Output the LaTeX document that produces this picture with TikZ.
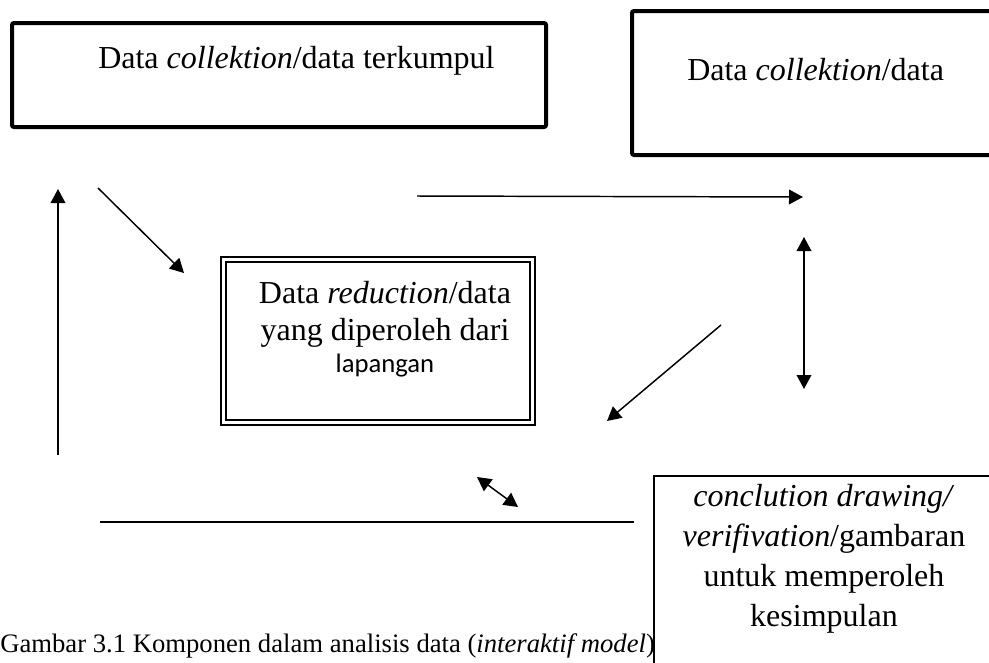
\documentclass[tikz,border=0pt]{standalone}
\usepackage{fontspec}
\setmainfont{Liberation Serif}
\newfontfamily\calib{Carlito}
\usetikzlibrary{arrows.meta,positioning}
\tikzset{
  kotak/.style={draw,line width=3pt,rounded corners=1.5pt,inner sep=0pt,outer sep=0pt,fill=white},
  kotakt/.style={draw,line width=1.1pt,inner sep=0pt,outer sep=0pt,fill=white},
  teks/.style={font=\fontsize{24}{30}\selectfont,inner sep=0pt,align=center},
  panah/.style={-{Triangle[length=10.5pt,width=11pt]},line width=1.1pt},
  panahd/.style={{Triangle[length=10.5pt,width=11pt]}-{Triangle[length=10.5pt,width=11pt]},line width=1.1pt},
  garis/.style={line width=1.1pt},
}
\begin{document}
\begin{tikzpicture}[x=0.75pt,y=-0.75pt]
\useasboundingbox (0,0) rectangle (989,662);
\clip (0,0) rectangle (989,662);

% kotak atas
\node[kotak,minimum width=400.5pt,minimum height=78pt] (kumpul) at (279,75) {};
\node[teks,anchor=base west] (kumpult) at (98,68) {Data \textit{collektion}/data terkumpul};
\node[kotak,minimum width=276pt,minimum height=108pt] (koleksi) at (816,83) {};
\node[teks,anchor=base west] (koleksit) at (687,80) {Data \textit{collektion}/data};

% kotak reduksi (garis ganda)
\node[kotak,line width=2.2pt,rounded corners=0pt,minimum width=235.5pt,minimum height=126pt] (reduksi) at (378,341) {};
\node[kotakt,line width=0.8pt,minimum width=228pt,minimum height=118.5pt] (reduksiin) at (reduksi.center) {};
\node[teks,font=\fontsize{24}{27.75}\selectfont,anchor=base] (reduksit) at (385,372)
  {Data \textit{reduction}/data\\yang diperoleh dari\\[-3.75pt]{\calib\fontsize{20}{24}\selectfont lapangan}};

% keterangan gambar
\node[font=\fontsize{20}{24}\selectfont,inner sep=0pt,anchor=base west] (ket) at (0,652)
  {Gambar 3.1 Komponen dalam analisis data (\textit{interaktif model})};

% kotak kesimpulan
\node[kotakt,minimum width=255pt,minimum height=168pt] (simpul) at (824,588) {};
\node[teks,anchor=base] (simpult) at (824,626)
  {\textit{conclution drawing/}\\\textit{verifivation}/gambaran\\untuk memperoleh\\kesimpulan};

% titik ujung panah
\coordinate (n1) at (58,455);
\coordinate (n2) at (58,189);
\coordinate (d1) at (98,188);
\coordinate (d2) at (184,273);
\coordinate (h1) at (417,196);
\coordinate (h2) at (803,197);
\coordinate (v1) at (804,237);
\coordinate (v2) at (804,389);
\coordinate (m1) at (721,325);
\coordinate (m2) at (607,421);
\coordinate (k1) at (477,477);
\coordinate (k2) at (518,507);
\coordinate (g1) at (100,522);
\coordinate (g2) at (634,522);

\draw[panah] (n1) -- (n2);
\draw[panah] (d1) -- (d2);
\draw[panah] (h1) -- (h2);
\draw[panahd] (v1) -- (v2);
\draw[panah] (m1) -- (m2);
\draw[panahd] (k1) -- (k2);
\draw[garis] (g1) -- (g2);

\end{tikzpicture}
\end{document}
